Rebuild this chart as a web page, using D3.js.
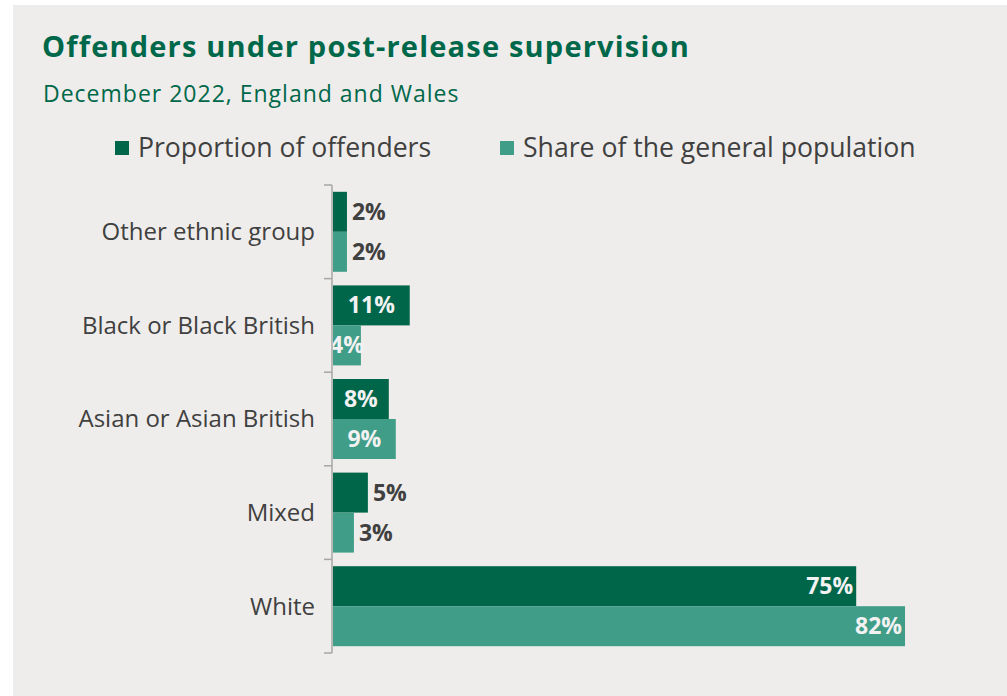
<!DOCTYPE html>
<html>
<head>
<meta charset="utf-8">
<script src="https://cdn.jsdelivr.net/npm/d3@7"></script>
<style>
  html, body { margin: 0; padding: 0; background: #ffffff; }
  svg { display: block; }
  text { font-family: "Open Sans", "DejaVu Sans", sans-serif; }
</style>
</head>
<body>
<svg id="chart" width="1007" height="696"></svg>
<script>
// Ethnic group breakdown, December 2022
const categories = ["Other ethnic group", "Black or Black British", "Asian or Asian British", "Mixed", "White"];
const seriesNames = ["Proportion of offenders", "Share of the general population"];
const offenders = [2, 11, 8, 5, 75];
const population = [2, 4, 9, 3, 82];
const titleText = "Offenders under post-release supervision";
const subtitleText = "December 2022, England and Wales";

const colors = ["#00664a", "#409d88"];
const green = "#00684a";
const grey = "#404040";

const svg = d3.select("#chart");

// panel background
svg.append("rect").attr("x", 13).attr("y", 5).attr("width", 994).attr("height", 691).attr("fill", "#efedeb");

svg.append("text").attr("x", 42).attr("y", 57)
  .attr("font-size", 29).attr("font-weight", 700).attr("fill", green)
  .attr("letter-spacing", 1.2)
  .text(titleText);
svg.append("text").attr("x", 43).attr("y", 102)
  .attr("font-size", 23).attr("fill", green)
  .attr("letter-spacing", 1)
  .text(subtitleText);

// legend
const legendX = [115, 500];
seriesNames.forEach((name, i) => {
  const g = svg.append("g").attr("transform", `translate(${legendX[i]},148)`);
  g.append("rect").attr("x", 0).attr("y", -7).attr("width", 14).attr("height", 14).attr("fill", colors[i]);
  g.append("text").attr("x", 23).attr("y", 0).attr("dy", "0.35em")
    .attr("font-size", 26.6).attr("fill", grey).text(name);
});

// scales
const x = d3.scaleLinear().domain([0, 100]).range([333, 333 + 697.6]);
const y = d3.scaleBand().domain(categories).range([185, 653]).paddingInner(0).paddingOuter(0);
const ySub = d3.scaleBand().domain([0, 1]).range([0, y.bandwidth()]).paddingInner(0).paddingOuter(0.17);

const rows = categories.map((c, i) => ({ cat: c, vals: [offenders[i], population[i]] }));

// where each value label sits: beside the bar, centred in it, or at its inner end
const placement = {
  "Other ethnic group": "out",
  "Black or Black British": "center",
  "Asian or Asian British": "center",
  "Mixed": "out",
  "White": "end"
};

const groups = svg.append("g").selectAll("g").data(rows).join("g")
  .attr("transform", d => `translate(0,${y(d.cat)})`);

groups.selectAll("rect").data(d => d.vals.map((v, s) => ({ v, s, cat: d.cat }))).join("rect")
  .attr("x", x(0))
  .attr("y", d => ySub(d.s))
  .attr("width", d => x(d.v) - x(0))
  .attr("height", ySub.bandwidth())
  .attr("fill", d => colors[d.s]);

groups.selectAll("text.val").data(d => d.vals.map((v, s) => ({ v, s, cat: d.cat }))).join("text")
  .attr("class", "val")
  .attr("font-size", 23).attr("font-weight", 700)
  .attr("y", d => ySub(d.s) + ySub.bandwidth() / 2)
  .attr("dy", "0.35em")
  .each(function (d) {
    const mode = placement[d.cat];
    const t = d3.select(this);
    if (mode === "out") {
      t.attr("x", x(d.v) + 5).attr("text-anchor", "start").attr("fill", grey);
    } else if (mode === "center") {
      t.attr("x", (x(0) + x(d.v)) / 2).attr("text-anchor", "middle").attr("fill", "#f2f2f2");
    } else {
      t.attr("x", x(d.v) - 3).attr("text-anchor", "end").attr("fill", "#f2f2f2");
    }
  })
  .text(d => d.v + "%");

// category axis with ticks at band boundaries
const axis = svg.append("g").attr("stroke", "#a6a6a6").attr("stroke-width", 1.5);
axis.append("line").attr("x1", 332).attr("x2", 332).attr("y1", y.range()[0]).attr("y2", y.range()[1]);
const bounds = categories.map(c => y(c)).concat([y.range()[1]]);
axis.selectAll("line.tick").data(bounds).join("line").attr("class", "tick")
  .attr("x1", 324).attr("x2", 332).attr("y1", d => d).attr("y2", d => d);

svg.append("g").selectAll("text").data(categories).join("text")
  .attr("x", 315).attr("y", d => y(d) + y.bandwidth() / 2).attr("dy", "0.35em")
  .attr("text-anchor", "end").attr("font-size", 24).attr("fill", grey)
  .text(d => d);
</script>
</body>
</html>
